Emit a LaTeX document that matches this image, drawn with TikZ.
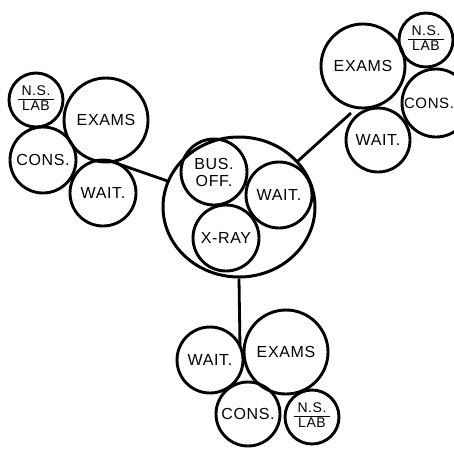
\documentclass[tikz,border=0pt]{standalone}
\usepackage{fontspec}
\setmainfont{Liberation Sans}[LetterSpace=4]
\usetikzlibrary{shapes.geometric}
\tikzset{
  room/.style={draw, circle, line width=2.9pt, inner sep=0pt, minimum size=#1, font=\fontsize{16}{17}\selectfont, align=center},
  hub/.style={draw, ellipse, line width=3pt, inner sep=0pt, minimum width=152pt, minimum height=140pt},
  link/.style={line width=2.8pt}
}
\newcommand{\nslab}{{\fontsize{14}{14}\selectfont\setlength{\arrayrulewidth}{1.6pt}\setlength{\tabcolsep}{4pt}\begin{tabular}{c}N.S.\\[-1pt]\hline LAB\end{tabular}}}
\begin{document}
\begin{tikzpicture}[x=1pt,y=-1pt]
\useasboundingbox (0,0) rectangle (454,448);
\begin{scope}
\clip (0,0) rectangle (454,448);
% central cluster
\node[hub] (hub) at (239,207) {};
\node[room=66pt] (bus) at (214,172) {BUS.\\OFF.};
\node[room=66pt] (cw) at (279,195) {WAIT.};
\node[room=66pt] (xray) at (226,238) {X-RAY};
% left cluster
\node[room=54pt] (lns) at (36,100) {\nslab};
\node[room=84pt] (lex) at (106,120) {EXAMS};
\node[room=66pt] (lcons) at (43,160) {CONS.};
\node[room=66pt] (lwait) at (103,193) {WAIT.};
% top right cluster
\node[room=84pt] (tex) at (363,66) {EXAMS};
\node[room=54pt] (tns) at (426,40) {\nslab};
\node[room=68pt, font=\fontsize{15}{16}\selectfont] (tcons) at (436,103) {\hspace*{-14pt}CONS.};
\node[room=64pt] (twait) at (378,140) {WAIT.};
% bottom cluster
\node[room=66pt] (bwait) at (210,360) {WAIT.};
\node[room=84pt] (bex) at (286,352) {EXAMS};
\node[room=64pt] (bcons) at (248,414) {CONS.};
\node[room=54pt] (bns) at (312,417) {\nslab};
% connectors
\coordinate (lj) at (110,161);
\coordinate (tj) at (351,113);
\coordinate (bj) at (240,347);
\draw[link] (lj) -- (hub.160);
\draw[link] (tj) -- (hub.38);
\draw[link] (bj) -- (hub.south);
\end{scope}
\end{tikzpicture}
\end{document}
